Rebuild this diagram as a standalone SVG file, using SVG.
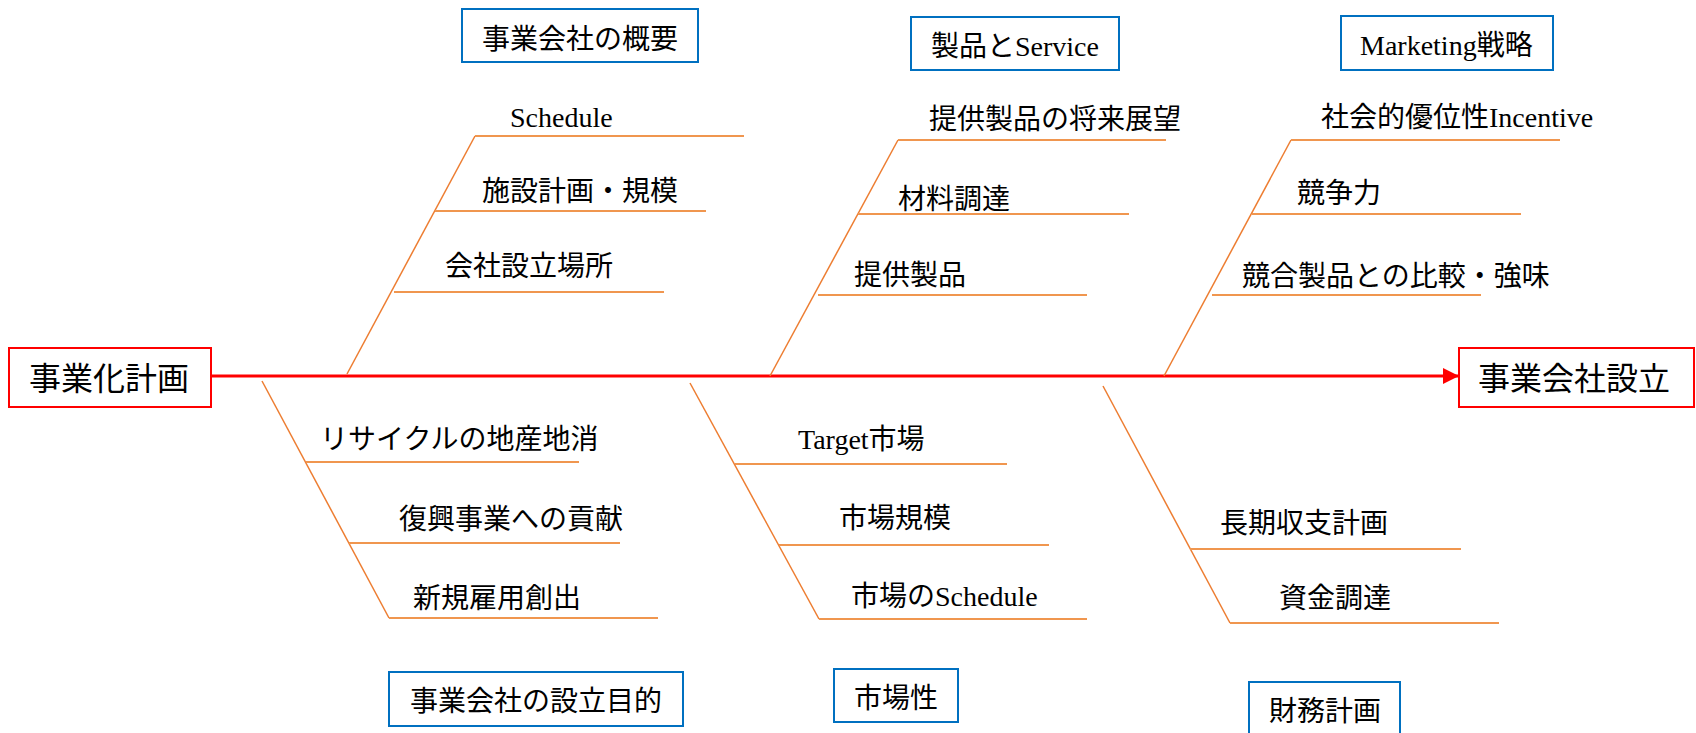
<svg xmlns="http://www.w3.org/2000/svg" width="1696" height="733" viewBox="0 0 1696 733">
<style>
  .t { font-family: "Liberation Serif", "Noto Sans CJK JP", serif; font-size: 28px; fill: #000; }
  .big { font-size: 32px; }
  .cat { fill: #fff; stroke: #0070C0; stroke-width: 2; }
  .end { fill: #fff; stroke: #FF0000; stroke-width: 2; }
  .bone { stroke: #ED7D31; stroke-width: 1.5; fill: none; }
  .rib { stroke: #F0964F; stroke-width: 1.8; fill: none; }
  .spine { stroke: #FF0000; stroke-width: 3; fill: none; }
</style>
<defs>
  <marker id="arr" viewBox="0 0 16 16" refX="16" refY="8" markerWidth="16" markerHeight="16" markerUnits="userSpaceOnUse" orient="auto">
    <path d="M0,0 L16,8 L0,16 Z" fill="#FF0000"/>
  </marker>
</defs>
<rect width="1696" height="733" fill="#fff"/>

<g id="connectors">
  <line class="spine" x1="211" y1="376" x2="1459" y2="376" marker-end="url(#arr)"/>
  <!-- top-left -->
  <line class="bone" x1="347" y1="374" x2="475" y2="136"/>
  <line class="rib" x1="475" y1="136" x2="744" y2="136"/>
  <line class="rib" x1="435" y1="211" x2="706" y2="211"/>
  <line class="rib" x1="394" y1="292" x2="664" y2="292"/>
  <!-- top-middle -->
  <line class="bone" x1="770" y1="376" x2="898" y2="140"/>
  <line class="rib" x1="898" y1="140" x2="1166" y2="140"/>
  <line class="rib" x1="858" y1="214" x2="1129" y2="214"/>
  <line class="rib" x1="818" y1="295" x2="1087" y2="295"/>
  <!-- top-right -->
  <line class="bone" x1="1164" y1="376" x2="1291" y2="140"/>
  <line class="rib" x1="1291" y1="140" x2="1560" y2="140"/>
  <line class="rib" x1="1252" y1="214" x2="1521" y2="214"/>
  <line class="rib" x1="1212" y1="295" x2="1481" y2="295"/>
  <!-- bottom-left -->
  <line class="bone" x1="262" y1="381" x2="389" y2="618"/>
  <line class="rib" x1="306" y1="462" x2="579" y2="462"/>
  <line class="rib" x1="349" y1="543" x2="620" y2="543"/>
  <line class="rib" x1="389" y1="618" x2="658" y2="618"/>
  <!-- bottom-middle -->
  <line class="bone" x1="690" y1="383" x2="819" y2="619"/>
  <line class="rib" x1="735" y1="464" x2="1007" y2="464"/>
  <line class="rib" x1="779" y1="545" x2="1049" y2="545"/>
  <line class="rib" x1="819" y1="619" x2="1087" y2="619"/>
  <!-- bottom-right -->
  <line class="bone" x1="1103" y1="386" x2="1230" y2="623"/>
  <line class="rib" x1="1190" y1="549" x2="1461" y2="549"/>
  <line class="rib" x1="1230" y1="623" x2="1499" y2="623"/>
</g>

<g id="start">
  <rect class="end" x="9" y="348" width="202" height="59"/>
  <text class="t big" x="29" y="390">事業化計画</text>
</g>
<g id="goal">
  <rect class="end" x="1459" y="348" width="235" height="59"/>
  <text class="t big" x="1478" y="390">事業会社設立</text>
</g>

<g id="cat-overview">
  <rect class="cat" x="462" y="9" width="236" height="53"/>
  <text class="t" x="482" y="49">事業会社の概要</text>
</g>
<g id="cat-product">
  <rect class="cat" x="911" y="17" width="208" height="53"/>
  <text class="t" x="931" y="56">製品とService</text>
</g>
<g id="cat-marketing">
  <rect class="cat" x="1341" y="16" width="212" height="54"/>
  <text class="t" x="1360" y="55">Marketing戦略</text>
</g>
<g id="cat-purpose">
  <rect class="cat" x="389" y="672" width="294" height="54"/>
  <text class="t" x="410" y="711">事業会社の設立目的</text>
</g>
<g id="cat-market">
  <rect class="cat" x="834" y="669" width="124" height="53"/>
  <text class="t" x="854" y="708">市場性</text>
</g>
<g id="cat-finance">
  <rect class="cat" x="1249" y="682" width="151" height="60"/>
  <text class="t" x="1269" y="721">財務計画</text>
</g>

<g id="labels">
  <g id="l-schedule"><text class="t" x="510" y="127">Schedule</text></g>
  <g id="l-facility"><text class="t" x="482" y="201">施設計画・規模</text></g>
  <g id="l-location"><text class="t" x="445" y="276">会社設立場所</text></g>

  <g id="l-future"><text class="t" x="929" y="129">提供製品の将来展望</text></g>
  <g id="l-material"><text class="t" x="898" y="209">材料調達</text></g>
  <g id="l-product"><text class="t" x="854" y="285">提供製品</text></g>

  <g id="l-incentive"><text class="t" x="1321" y="127">社会的優位性Incentive</text></g>
  <g id="l-compete"><text class="t" x="1297" y="203">競争力</text></g>
  <g id="l-compare"><text class="t" x="1242" y="286">競合製品との比較・強味</text></g>

  <g id="l-recycle"><text class="t" x="320" y="449">リサイクルの地産地消</text></g>
  <g id="l-recovery"><text class="t" x="399" y="529">復興事業への貢献</text></g>
  <g id="l-jobs"><text class="t" x="413" y="608">新規雇用創出</text></g>

  <g id="l-target"><text class="t" x="798" y="449">Target市場</text></g>
  <g id="l-size"><text class="t" x="839" y="528">市場規模</text></g>
  <g id="l-mschedule"><text class="t" x="851" y="606">市場のSchedule</text></g>

  <g id="l-longterm"><text class="t" x="1220" y="533">長期収支計画</text></g>
  <g id="l-funding"><text class="t" x="1279" y="608">資金調達</text></g>
</g>
</svg>
